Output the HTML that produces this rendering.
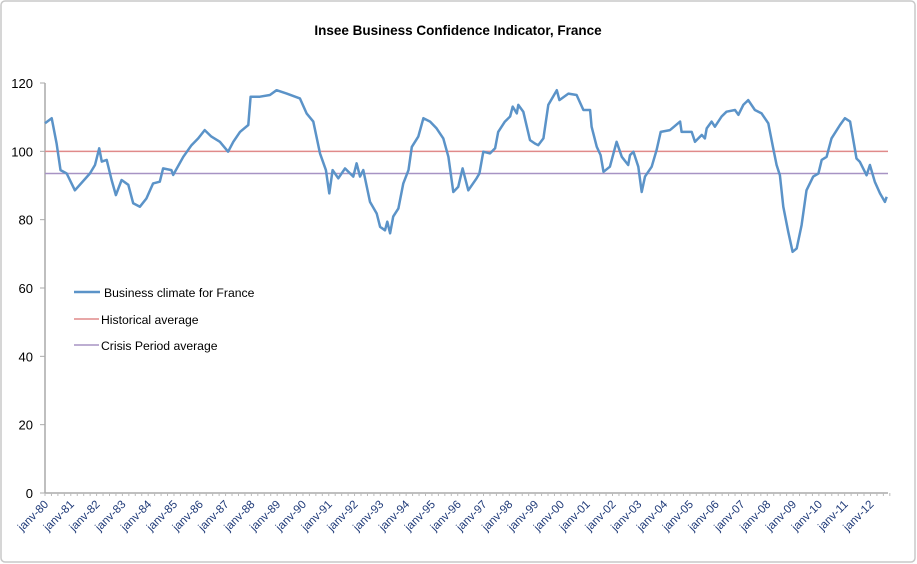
<!DOCTYPE html>
<html><head><meta charset="utf-8"><style>
body{margin:0;background:#fff;font-family:"Liberation Sans",sans-serif}
svg{display:block}
</style></head><body>
<svg id="chart" width="917" height="564">
<rect x="1" y="1" width="914" height="561" rx="4" fill="#fff" stroke="#c8c8c8" stroke-width="1.5"/>
<text x="458" y="35" text-anchor="middle" font-size="13.5" font-weight="bold" fill="#000">Insee Business Confidence Indicator, France</text>
<g id="yaxis"></g><g id="xaxis"></g><g id="series"></g>
<g>
<g><line x1="74" y1="292" x2="100" y2="292" stroke="#5b93c8" stroke-width="2.5"/><text x="104" y="297" font-size="12.2">Business climate for France</text></g>
<g><line x1="74" y1="319" x2="99" y2="319" stroke="#e08a8a" stroke-width="1.5"/><text x="101" y="324" font-size="12.2">Historical average</text></g>
<g><line x1="74" y1="345" x2="99" y2="345" stroke="#a793c4" stroke-width="1.5"/><text x="101" y="350" font-size="12.2">Crisis Period average</text></g>
</g>
</svg>
<script>
const dates=[1980.0,1980.26,1980.45,1980.6,1980.84,1981.16,1981.74,1981.94,1982.1,1982.2,1982.39,1982.58,1982.75,1982.97,1983.23,1983.42,1983.68,1983.93,1984.19,1984.45,1984.58,1984.9,1984.97,1985.36,1985.68,1985.94,1986.19,1986.45,1986.78,1987.1,1987.3,1987.56,1987.88,1987.97,1988.33,1988.72,1988.98,1989.37,1989.88,1990.14,1990.4,1990.66,1990.89,1991.02,1991.15,1991.37,1991.63,1991.95,1992.08,1992.21,1992.34,1992.6,1992.86,1992.99,1993.18,1993.27,1993.38,1993.5,1993.7,1993.89,1994.09,1994.22,1994.47,1994.67,1994.93,1995.18,1995.44,1995.64,1995.83,1996.02,1996.19,1996.41,1996.73,1996.84,1996.99,1997.25,1997.45,1997.57,1997.83,1998.03,1998.13,1998.29,1998.35,1998.54,1998.8,1998.99,1999.12,1999.32,1999.51,1999.84,1999.94,2000.29,2000.61,2000.87,2001.13,2001.19,2001.39,2001.54,2001.65,2001.9,2002.16,2002.36,2002.61,2002.68,2002.81,2003.0,2003.13,2003.26,2003.52,2003.71,2003.87,2004.23,2004.62,2004.68,2005.07,2005.2,2005.46,2005.58,2005.65,2005.84,2005.97,2006.23,2006.42,2006.75,2006.88,2007.07,2007.26,2007.52,2007.78,2008.04,2008.23,2008.36,2008.49,2008.62,2008.81,2008.98,2009.14,2009.33,2009.52,2009.78,2009.98,2010.11,2010.3,2010.49,2010.82,2011.01,2011.21,2011.46,2011.59,2011.85,2011.98,2012.17,2012.37,2012.56,2012.63];
const values=[108.2,109.7,102.3,94.5,93.5,88.6,93.5,96,100.9,97,97.5,91.6,87.2,91.6,90.2,84.8,83.8,86.2,90.6,91.1,95,94.5,93.1,98.4,101.8,103.8,106.2,104.3,102.8,99.9,102.8,105.7,107.7,116,116,116.5,117.9,116.9,115.5,111.1,108.7,99.4,94.5,87.7,94.5,92.1,95,92.6,96.5,92.6,94.5,85.2,81.8,77.9,76.9,79.4,76,80.9,83.3,90.6,94.5,101.3,104.3,109.7,108.7,106.7,103.8,98.4,88.1,89.6,95,88.6,92.1,93.5,99.9,99.4,100.9,105.7,108.7,110.2,113.1,111.1,113.6,111.6,103.3,102.3,101.8,103.8,113.6,117.9,115,116.9,116.5,112.1,112.1,107.2,101.3,98.9,94,95.5,102.8,98.4,96,98.9,99.9,95.5,88.1,92.6,95.5,100.4,105.7,106.2,108.7,105.7,105.7,102.8,104.8,103.8,106.7,108.7,107.2,110.2,111.6,112.1,110.7,113.6,115,112.1,111.1,108.2,100.9,96,93,83.8,76.5,70.6,71.6,78.4,88.6,92.6,93.5,97.5,98.4,103.8,107.7,109.7,108.7,97.9,96.9,93,96,91.1,87.7,85.2,86.7];
const historicalAvg=[100];
const crisisAvg=[93.5];
const yTicks=[0,20,40,60,80,100,120];
const xYears=[1980,1981,1982,1983,1984,1985,1986,1987,1988,1989,1990,1991,1992,1993,1994,1995,1996,1997,1998,1999,2000,2001,2002,2003,2004,2005,2006,2007,2008,2009,2010,2011,2012];

const NS="http://www.w3.org/2000/svg";
const X0=45,X1=888,Y0=493,Y1=83,D0=1980,D1=2012.68;
const xs=d=>X0+(d-D0)/(D1-D0)*(X1-X0);
const ys=v=>Y0-v/120*(Y0-Y1);
function mk(t,a,p){const e=document.createElementNS(NS,t);for(const k in a)e.setAttribute(k,a[k]);p.appendChild(e);return e;}
const yg=document.getElementById('yaxis'),xg=document.getElementById('xaxis'),sg=document.getElementById('series');
const yl=mk('line',{x1:X0,y1:Y0,x2:X0,y2:Y1,stroke:'#aaa','stroke-width':1.5},yg);


yTicks.forEach(v=>{
  const t=mk('line',{x1:X0-5,x2:X0,y1:ys(v),y2:ys(v),stroke:'#aaa'},yg);
  
  
  const l=mk('text',{x:X0-12,y:ys(v)+5,'text-anchor':'end','font-size':13},yg);
  l.textContent=v;
  
  
});
const xl=mk('line',{x1:X0,y1:Y0,x2:X1,y2:Y0,stroke:'#aaa','stroke-width':1.5},xg);


for(let m=0;m<=393;m+=3){const x=xs(D0+m/12);const t=mk('line',{x1:x,x2:x,y1:Y0,y2:Y0+3,stroke:'#bbb'},xg);

}
xYears.forEach(yr=>{
  const x=xs(yr)+4,y=Y0+12;
  const l=mk('text',{x:x,y:y,'text-anchor':'end','font-size':11.5,fill:'#1f3a78',transform:`rotate(-45 ${x} ${y})`},xg);
  l.textContent='janv-'+String(yr%100).padStart(2,'0');
  
  
});
const h=mk('line',{x1:X0,x2:X1,y1:ys(historicalAvg[0]),y2:ys(historicalAvg[0]),stroke:'#e08a8a','stroke-width':1.5},sg);


const c=mk('line',{x1:X0,x2:X1,y1:ys(crisisAvg[0]),y2:ys(crisisAvg[0]),stroke:'#a793c4','stroke-width':1.5},sg);


const p=mk('polyline',{points:dates.map((d,i)=>xs(d).toFixed(1)+','+ys(values[i]).toFixed(1)).join(' '),fill:'none',stroke:'#5b93c8','stroke-width':2.5,'stroke-linejoin':'round'},sg);


</script>
</body></html>
